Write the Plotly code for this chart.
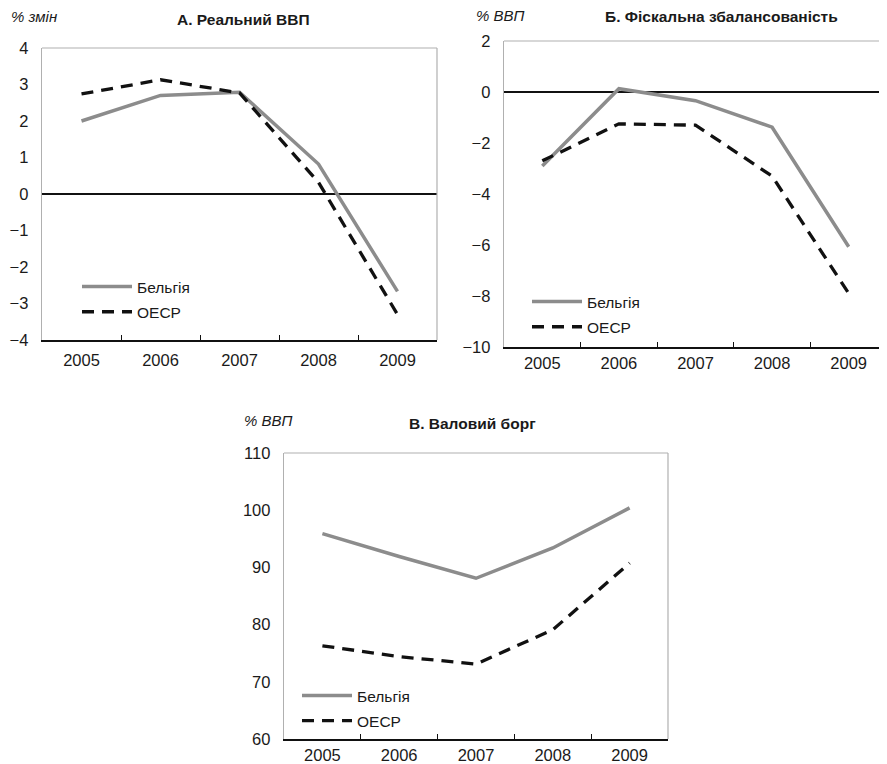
import plotly.graph_objects as go

years = ["2005", "2006", "2007", "2008", "2009"]

gdp_belgium = [2.0, 2.70, 2.79, 0.82, -2.67]
gdp_oecd = [2.74, 3.13, 2.77, 0.32, -3.30]

fiscal_belgium = [-2.9, 0.13, -0.34, -1.38, -6.07]
fiscal_oecd = [-2.7, -1.25, -1.30, -3.30, -7.90]

debt_belgium = [95.9, 91.9, 88.1, 93.4, 100.4]
debt_oecd = [76.3, 74.4, 73.1, 79.1, 90.75]

name_be = "Бельгія"
name_oecd = "ОЕСР"

FONT = "Liberation Sans, Arial, sans-serif"
GRAY = "#8c8c8c"
BLACK = "#111111"
FRAME = "#b0b0b0"

OFF = 8  # page body margin
W, H = 887 - OFF, 764 - OFF

def px_x(v):
    return (v - OFF) / W

def px_y(v):
    return 1 - (v - OFF) / H

panels = [
    dict(xd=[px_x(42), px_x(437)], yd=[px_y(340), px_y(48)], yr=[-4, 4], dt=1,
         be=gdp_belgium, oe=gdp_oecd, zero=True, legend="legend",
         leg=(px_x(77), px_y(270)), so=4),
    dict(xd=[px_x(504), 1.0], yd=[px_y(347), px_y(41)], yr=[-10, 2], dt=2,
         be=fiscal_belgium, oe=fiscal_oecd, zero=True, legend="legend2",
         leg=(px_x(527), px_y(285)), so=0),
    dict(xd=[px_x(284), px_x(668)], yd=[px_y(739), px_y(453)], yr=[60, 110], dt=10,
         be=debt_belgium, oe=debt_oecd, zero=False, legend="legend3",
         leg=(px_x(297), px_y(679)), so=0),
]

fig = go.Figure()
layout = dict(
    width=W, height=H, margin=dict(l=0, r=0, t=0, b=0, autoexpand=False),
    paper_bgcolor="white", plot_bgcolor="white",
    font=dict(family=FONT, size=15, color="#1a1a1a"),
    showlegend=True,
)
shapes = []
for i, p in enumerate(panels):
    sfx = "" if i == 0 else str(i + 1)
    xa, ya = "x" + sfx, "y" + sfx
    fig.add_trace(go.Scatter(x=years, y=p["be"], mode="lines", name=name_be,
                             line=dict(color=GRAY, width=3.5),
                             xaxis=xa, yaxis=ya, legend=p["legend"],
                             legendgroup="be" + sfx))
    fig.add_trace(go.Scatter(x=years, y=p["oe"], mode="lines", name=name_oecd,
                             line=dict(color=BLACK, width=3.3, dash="12px,8px"),
                             xaxis=xa, yaxis=ya, legend=p["legend"],
                             legendgroup="oe" + sfx))
    layout["xaxis" + sfx] = dict(
        domain=p["xd"], anchor=ya, type="category", range=[-0.5, 4.5],
        showgrid=False, showline=True, linecolor=BLACK, linewidth=1.5,
        ticks="inside", tickson="boundaries", ticklen=5, tickcolor=BLACK,
        tickfont=dict(size=16.5, family=FONT, color="#1a1a1a"),
        ticklabelstandoff=p["so"],
        fixedrange=True, automargin=False,
    )
    layout["yaxis" + sfx] = dict(
        domain=p["yd"], anchor=xa, range=p["yr"], dtick=p["dt"],
        showgrid=False, showline=True, linecolor=FRAME, linewidth=1.2,
        ticks="", zeroline=p["zero"], zerolinecolor=BLACK, zerolinewidth=1.5,
        tickfont=dict(size=16.5, family=FONT, color="#1a1a1a"),
        ticksuffix="  ", fixedrange=True, automargin=False,
    )
    layout[p["legend"]] = dict(
        x=p["leg"][0], y=p["leg"][1], xanchor="left", yanchor="top",
        bgcolor="rgba(0,0,0,0)", font=dict(size=15.5, family=FONT),
        tracegroupgap=2, traceorder="grouped", itemwidth=50,
    )
    shapes.append(dict(type="line", xref=xa + " domain", yref=ya + " domain",
                       x0=0, x1=1, y0=1, y1=1, line=dict(color=FRAME, width=1.2)))
    shapes.append(dict(type="line", xref=xa + " domain", yref=ya + " domain",
                       x0=1, x1=1, y0=0, y1=1, line=dict(color=FRAME, width=1.2)))

layout["shapes"] = shapes
ann = []
titles = [
    ("А. Реальний ВВП", 243, 20),
    ("Б. Фіскальна збалансованість", 721, 17),
    ("В. Валовий борг", 472, 423),
]
for t, x, y in titles:
    ann.append(dict(text="<b>" + t + "</b>", x=px_x(x), y=px_y(y), xref="paper", yref="paper",
                    showarrow=False, xanchor="center", yanchor="middle",
                    font=dict(size=15.5, family=FONT, color="#1a1a1a")))
units = [
    ("% змін", 9, 17),
    ("% ВВП", 474, 15),
    ("% ВВП", 242, 420),
]
for t, x, y in units:
    ann.append(dict(text="<i>" + t + "</i>", x=px_x(x), y=px_y(y), xref="paper", yref="paper",
                    showarrow=False, xanchor="left", yanchor="middle",
                    font=dict(size=15, family=FONT, color="#1a1a1a")))
layout["annotations"] = ann
fig.update_layout(**layout)
fig.write_html("out.html")
